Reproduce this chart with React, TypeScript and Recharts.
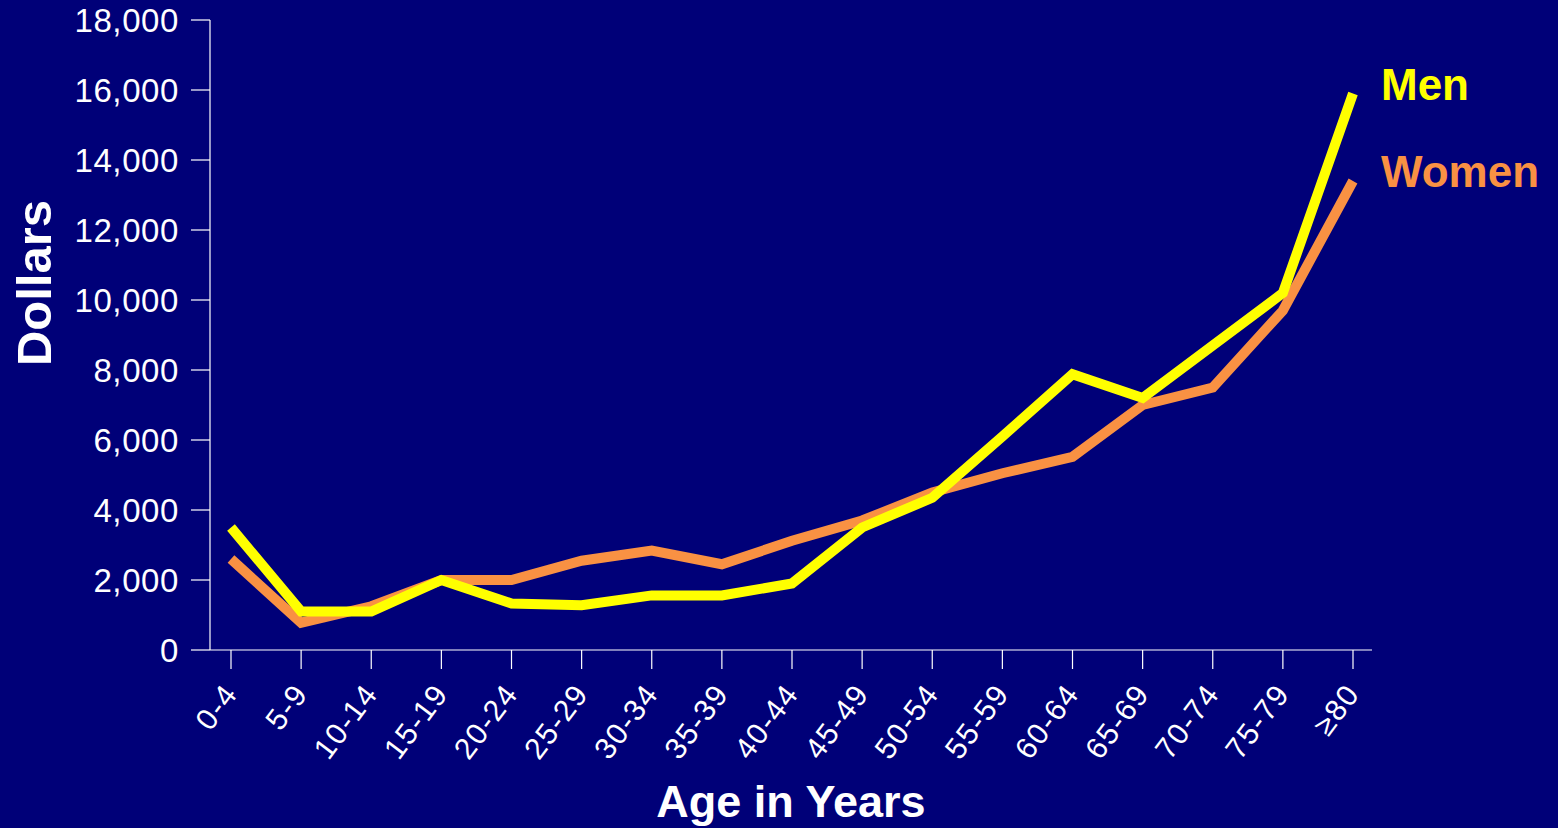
import React from 'react';
import { LineChart, Line, XAxis, YAxis, Label } from 'recharts';

// Age groups along the horizontal axis
const ageGroups = ['0-4', '5-9', '10-14', '15-19', '20-24', '25-29', '30-34', '35-39', '40-44', '45-49', '50-54', '55-59', '60-64', '65-69', '70-74', '75-79', '≥80'];

// Average spending per person, in dollars
const menDollars = [3500, 1100, 1100, 2000, 1330, 1280, 1560, 1560, 1900, 3500, 4350, 6100, 7880, 7200, 8700, 10200, 15900];
const womenDollars = [2600, 780, 1250, 2000, 2000, 2550, 2840, 2450, 3120, 3700, 4500, 5050, 5520, 7000, 7500, 9700, 13400];

const yTicks = [0, 2000, 4000, 6000, 8000, 10000, 12000, 14000, 16000, 18000];

const data = ageGroups.map((age, i) => ({ age, men: menDollars[i], women: womenDollars[i] }));

const BG = '#000078';
const MEN = '#FFFF00';
const WOMEN = '#F99143';
const FONT = '"Liberation Sans", Arial, Helvetica, sans-serif';

const fmt = (v: number) => v.toLocaleString('en-US');

const XTick = (props: any) => {
  const { x, y, payload } = props;
  const ax = x + 8;
  const ay = y + 25;
  return (
    <text x={ax} y={ay} fill="#FFFFFF" fontSize={30} letterSpacing={1.5} fontFamily={FONT} textAnchor="end" transform={`rotate(-53, ${ax}, ${ay})`}>
      {payload.value}
    </text>
  );
};

const YTick = (props: any) => {
  const { x, y, payload } = props;
  return (
    <text x={x} y={y} dy="0.36em" fill="#FFFFFF" fontSize={33} letterSpacing={0.6} fontFamily={FONT} textAnchor="end">
      {fmt(payload.value)}
    </text>
  );
};

const last = ageGroups.length - 1;

const endLabel = (text: string, color: string) => (props: any) => {
  if (props.index !== last) return <g />;
  return (
    <text x={props.x + 28} y={props.y + 6} fill={color} fontSize={44} fontWeight="bold" fontFamily={FONT}>
      {text}
    </text>
  );
};

export default function App() {
  return (
    <div style={{ position: 'absolute', left: 0, top: 0, width: 1558, height: 828, background: BG, overflow: 'hidden' }}>
      <LineChart width={1558} height={828} data={data} margin={{ top: 20, right: 186, bottom: 48, left: 0 }}>
        <XAxis
          dataKey="age"
          height={130}
          padding={{ left: 21, right: 19 }}
          stroke="#FFFFFF"
          tickSize={19}
          tickMargin={0}
          tick={<XTick />}
          interval={0}
          axisLine={{ stroke: '#FFFFFF', strokeWidth: 1.2 }}
          tickLine={{ stroke: '#FFFFFF', strokeWidth: 1.2 }}
        >
          <Label
            content={(p: any) => {
              const vb = p.viewBox;
              return (
                <text x={vb.x + vb.width / 2} y={vb.y + 167} fill="#FFFFFF" fontSize={45} fontWeight="bold" fontFamily={FONT} textAnchor="middle">
                  Age in Years
                </text>
              );
            }}
          />
        </XAxis>
        <YAxis
          width={210}
          domain={[0, 18000]}
          ticks={yTicks}
          interval={0}
          stroke="#FFFFFF"
          tickSize={19}
          tickMargin={12}
          tick={<YTick />}
          axisLine={{ stroke: '#FFFFFF', strokeWidth: 1.2 }}
          tickLine={{ stroke: '#FFFFFF', strokeWidth: 1.2 }}
        >
          <Label
            content={(p: any) => {
              const vb = p.viewBox;
              const cx = vb.x + 51;
              const cy = vb.y + vb.height / 2 - 52;
              return (
                <text x={cx} y={cy} fill="#FFFFFF" fontSize={49} fontWeight="bold" fontFamily={FONT} textAnchor="middle" transform={`rotate(-90, ${cx}, ${cy})`}>
                  Dollars
                </text>
              );
            }}
          />
        </YAxis>
        <Line
          type="linear"
          dataKey="women"
          stroke={WOMEN}
          strokeWidth={10}
          dot={false}
          activeDot={false}
          isAnimationActive={false}
          label={endLabel('Women', WOMEN)}
        />
        <Line
          type="linear"
          dataKey="men"
          stroke={MEN}
          strokeWidth={10}
          dot={false}
          activeDot={false}
          isAnimationActive={false}
          label={endLabel('Men', MEN)}
        />
      </LineChart>
    </div>
  );
}
